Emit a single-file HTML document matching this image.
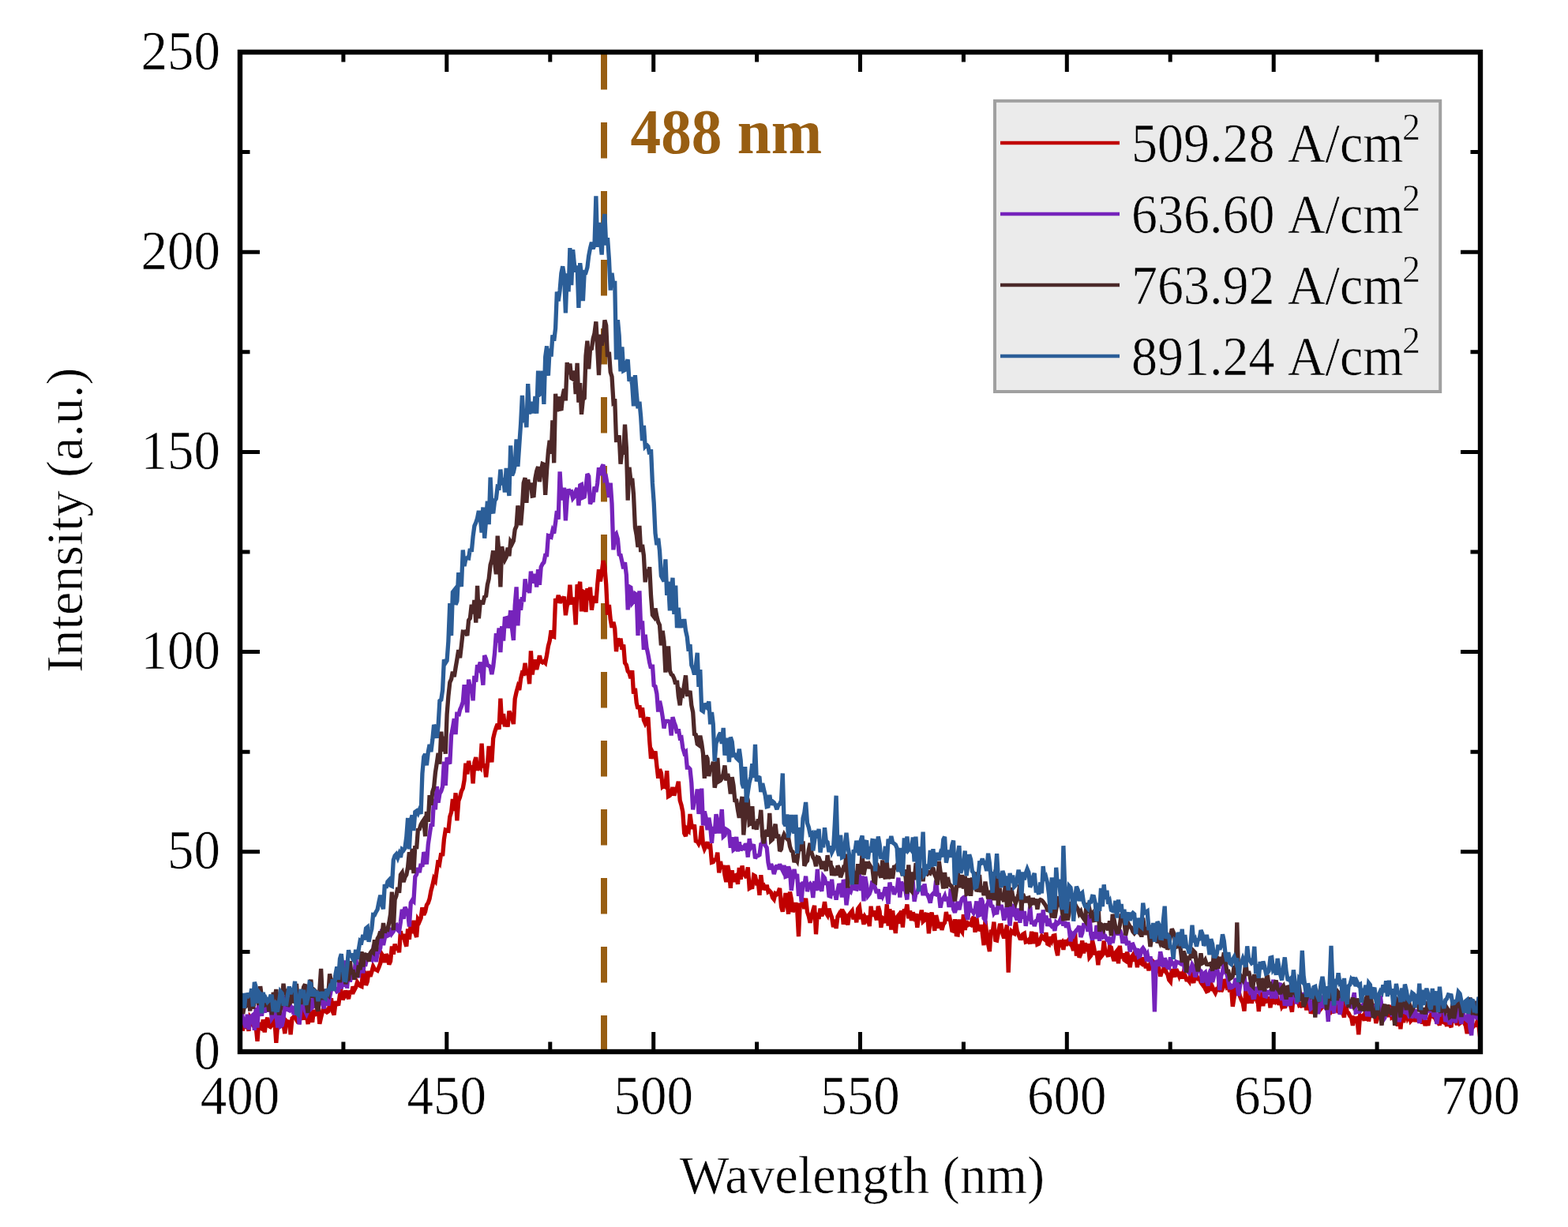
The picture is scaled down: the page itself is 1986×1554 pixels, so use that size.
<!DOCTYPE html>
<html><head><meta charset="utf-8"><style>
html,body{margin:0;padding:0;background:#fff;}
svg{display:block;}
text{font-family:"Liberation Serif","Times New Roman",serif;font-size:66px;fill:#000;stroke:#fff;stroke-width:0.6px;}
.lg{stroke:#ebebeb;}
</style></head><body>
<svg width="1986" height="1554" viewBox="0 0 1986 1554">
<rect x="0" y="0" width="1986" height="1554" fill="#fff"/>
<line x1="765" y1="68" x2="765" y2="1331" stroke="#985e12" stroke-width="8" stroke-dasharray="45.5 41.5"/>
<polyline fill="none" stroke="#c00000" stroke-width="5.3" stroke-linejoin="miter" stroke-miterlimit="3" points="304.0,1305.7 305.8,1302.8 307.7,1303.1 309.5,1294.8 311.3,1298.3 313.2,1294.9 315.0,1305.7 316.8,1288.5 318.7,1291.3 320.5,1298.2 322.3,1300.5 324.2,1300.9 326.0,1318.8 327.8,1295.0 329.7,1301.9 331.5,1302.9 333.3,1291.4 335.2,1307.4 337.0,1294.0 338.8,1288.9 340.7,1299.5 342.5,1300.6 344.3,1298.3 346.2,1288.0 348.0,1294.5 349.8,1320.9 351.7,1297.5 353.5,1286.6 355.3,1286.9 357.2,1289.8 359.0,1296.6 360.8,1309.0 362.7,1293.2 364.5,1295.3 366.3,1292.5 368.1,1310.2 370.0,1289.7 371.8,1288.3 373.6,1285.2 375.5,1291.6 377.3,1294.5 379.1,1294.7 381.0,1282.5 382.8,1284.2 384.6,1291.6 386.5,1266.7 388.3,1285.5 390.1,1297.0 392.0,1281.0 393.8,1286.1 395.6,1294.7 397.5,1279.1 399.3,1284.9 401.1,1284.3 403.0,1275.4 404.8,1296.8 406.6,1288.7 408.5,1281.0 410.3,1274.6 412.1,1280.7 414.0,1282.0 415.8,1280.9 417.6,1271.9 419.5,1264.3 421.3,1280.8 423.1,1285.3 425.0,1270.2 426.8,1270.1 428.6,1273.5 430.5,1259.6 432.3,1256.5 434.1,1266.1 436.0,1262.4 437.8,1254.7 439.6,1259.9 441.5,1265.0 443.3,1254.7 445.1,1259.1 447.0,1249.5 448.8,1253.9 450.6,1250.4 452.5,1244.0 454.3,1246.8 456.1,1248.6 458.0,1249.4 459.8,1228.7 461.6,1231.3 463.5,1247.8 465.3,1243.0 467.1,1229.9 469.0,1236.7 470.8,1231.0 472.6,1224.0 474.5,1227.6 476.3,1228.1 478.1,1229.2 480.0,1224.8 481.8,1219.8 483.6,1208.4 485.5,1211.5 487.3,1218.8 489.1,1208.5 490.9,1212.0 492.8,1221.4 494.6,1217.3 496.4,1198.6 498.3,1208.6 500.1,1195.5 501.9,1203.2 503.8,1198.9 505.6,1206.2 507.4,1179.3 509.3,1189.4 511.1,1183.1 512.9,1192.5 514.8,1198.6 516.6,1176.5 518.4,1189.8 520.3,1169.8 522.1,1182.0 523.9,1165.7 525.8,1181.5 527.6,1186.8 529.4,1164.3 531.3,1167.0 533.1,1162.7 534.9,1149.3 536.8,1158.5 538.6,1154.7 540.4,1146.3 542.3,1143.5 544.1,1138.2 545.9,1128.3 547.8,1121.2 549.6,1112.7 551.4,1115.3 553.3,1101.8 555.1,1089.3 556.9,1092.4 558.8,1080.4 560.6,1084.0 562.4,1063.2 564.3,1051.1 566.1,1051.7 567.9,1052.2 569.8,1034.2 571.6,1028.8 573.4,1012.1 575.3,1027.0 577.1,1004.3 578.9,1039.4 580.8,1014.2 582.6,1009.4 584.4,1002.2 586.3,998.3 588.1,988.3 589.9,966.7 591.8,980.4 593.6,963.7 595.4,973.9 597.3,969.5 599.1,992.3 600.9,965.8 602.8,959.1 604.6,975.7 606.4,969.9 608.3,972.1 610.1,941.7 611.9,972.2 613.7,967.5 615.6,984.3 617.4,968.3 619.2,944.9 621.1,954.9 622.9,965.3 624.7,935.2 626.6,927.1 628.4,921.6 630.2,916.9 632.1,923.7 633.9,884.7 635.7,917.2 637.6,904.1 639.4,920.3 641.2,912.0 643.1,920.4 644.9,900.6 646.7,905.4 648.6,909.5 650.4,917.0 652.2,885.1 654.1,876.5 655.9,870.0 657.7,873.9 659.6,859.6 661.4,852.2 663.2,853.0 665.1,839.8 666.9,854.9 668.7,848.7 670.6,866.1 672.4,824.3 674.2,854.4 676.1,840.7 677.9,835.5 679.7,847.8 681.6,839.9 683.4,830.3 685.2,837.9 687.1,839.0 688.9,837.6 690.7,839.5 692.6,829.5 694.4,818.4 696.2,811.8 698.1,798.4 699.9,805.7 701.7,806.4 703.6,758.1 705.4,763.1 707.2,753.8 709.1,763.8 710.9,758.7 712.7,760.3 714.6,755.6 716.4,779.2 718.2,767.2 720.1,763.0 721.9,740.6 723.7,765.6 725.6,756.9 727.4,765.0 729.2,791.2 731.1,740.3 732.9,746.9 734.7,736.8 736.5,774.3 738.4,749.0 740.2,750.0 742.0,775.1 743.9,745.1 745.7,760.2 747.5,743.7 749.4,772.7 751.2,759.8 753.0,755.2 754.9,763.8 756.7,740.1 758.5,721.2 760.4,736.4 762.2,725.3 764.0,710.1 765.9,718.1 767.7,739.8 769.5,778.6 771.4,766.1 773.2,784.5 775.0,794.7 776.9,787.9 778.7,795.8 780.5,825.2 782.4,808.2 784.2,818.5 786.0,808.7 787.9,822.7 789.7,816.5 791.5,839.6 793.4,842.3 795.2,850.0 797.0,852.2 798.9,859.1 800.7,849.2 802.5,878.6 804.4,871.8 806.2,890.1 808.0,897.7 809.9,893.4 811.7,908.7 813.5,896.4 815.4,912.1 817.2,916.2 819.0,912.6 820.9,908.5 822.7,938.2 824.5,960.9 826.4,952.6 828.2,956.2 830.0,951.6 831.9,970.2 833.7,985.6 835.5,974.3 837.4,978.9 839.2,996.3 841.0,994.8 842.9,996.3 844.7,976.2 846.5,1008.5 848.4,1007.4 850.2,1004.7 852.0,997.1 853.9,1007.5 855.7,1000.3 857.5,997.9 859.3,989.7 861.2,1013.7 863.0,1019.7 864.8,1028.3 866.7,1055.4 868.5,1059.0 870.3,1050.1 872.2,1052.1 874.0,1031.1 875.8,1044.5 877.7,1049.7 879.5,1044.4 881.3,1065.0 883.2,1065.7 885.0,1068.8 886.8,1065.1 888.7,1045.9 890.5,1069.7 892.3,1075.2 894.2,1071.3 896.0,1066.5 897.8,1072.2 899.7,1071.4 901.5,1092.3 903.3,1091.8 905.2,1088.9 907.0,1088.5 908.8,1079.8 910.7,1105.3 912.5,1091.0 914.3,1100.9 916.2,1095.8 918.0,1108.4 919.8,1117.0 921.7,1096.1 923.5,1104.8 925.3,1124.7 927.2,1102.3 929.0,1117.0 930.8,1109.2 932.7,1108.3 934.5,1119.8 936.3,1099.1 938.2,1113.8 940.0,1096.4 941.8,1107.3 943.7,1108.3 945.5,1111.7 947.3,1098.4 949.2,1125.0 951.0,1123.9 952.8,1123.6 954.7,1108.6 956.5,1109.7 958.3,1118.1 960.2,1116.9 962.0,1133.7 963.8,1108.2 965.7,1123.8 967.5,1122.2 969.3,1127.2 971.2,1120.7 973.0,1129.5 974.8,1128.4 976.6,1130.3 978.5,1136.7 980.3,1138.9 982.1,1131.5 984.0,1132.4 985.8,1130.1 987.6,1125.0 989.5,1148.2 991.3,1154.5 993.1,1143.9 995.0,1131.1 996.8,1142.7 998.6,1157.6 1000.5,1129.5 1002.3,1138.4 1004.1,1155.0 1006.0,1150.1 1007.8,1143.4 1009.6,1150.0 1011.5,1186.2 1013.3,1143.7 1015.1,1148.8 1017.0,1138.0 1018.8,1151.2 1020.6,1137.7 1022.5,1155.0 1024.3,1160.3 1026.1,1168.7 1028.0,1159.7 1029.8,1153.0 1031.6,1146.9 1033.5,1183.2 1035.3,1156.2 1037.1,1164.0 1039.0,1150.5 1040.8,1160.4 1042.6,1154.0 1044.5,1142.2 1046.3,1156.3 1048.1,1159.2 1050.0,1150.8 1051.8,1157.2 1053.6,1162.0 1055.5,1174.2 1057.3,1164.8 1059.1,1175.8 1061.0,1160.9 1062.8,1157.7 1064.6,1161.4 1066.5,1151.2 1068.3,1170.7 1070.1,1158.3 1072.0,1161.5 1073.8,1171.5 1075.6,1158.3 1077.5,1155.9 1079.3,1153.7 1081.1,1164.2 1083.0,1157.9 1084.8,1168.2 1086.6,1151.0 1088.5,1148.4 1090.3,1161.3 1092.1,1160.6 1094.0,1170.7 1095.8,1161.8 1097.6,1164.8 1099.4,1160.0 1101.3,1173.0 1103.1,1147.8 1104.9,1160.6 1106.8,1153.7 1108.6,1158.7 1110.4,1165.2 1112.3,1147.8 1114.1,1154.2 1115.9,1174.7 1117.8,1162.7 1119.6,1164.2 1121.4,1168.7 1123.3,1145.3 1125.1,1172.6 1126.9,1151.2 1128.8,1177.5 1130.6,1153.3 1132.4,1168.5 1134.3,1182.0 1136.1,1161.6 1137.9,1159.4 1139.8,1169.7 1141.6,1153.2 1143.4,1174.5 1145.3,1151.5 1147.1,1155.3 1148.9,1145.6 1150.8,1163.2 1152.6,1153.5 1154.4,1165.9 1156.3,1155.6 1158.1,1161.1 1159.9,1157.5 1161.8,1174.7 1163.6,1160.9 1165.4,1162.0 1167.3,1152.7 1169.1,1167.0 1170.9,1165.3 1172.8,1158.1 1174.6,1158.5 1176.4,1182.3 1178.3,1164.4 1180.1,1155.6 1181.9,1165.9 1183.8,1178.8 1185.6,1159.2 1187.4,1166.8 1189.3,1175.4 1191.1,1167.9 1192.9,1177.7 1194.8,1170.7 1196.6,1168.5 1198.4,1155.0 1200.3,1166.2 1202.1,1158.9 1203.9,1167.4 1205.8,1178.5 1207.6,1179.1 1209.4,1164.3 1211.3,1183.7 1213.1,1184.0 1214.9,1164.4 1216.8,1177.8 1218.6,1180.3 1220.4,1158.2 1222.2,1177.9 1224.1,1166.3 1225.9,1171.5 1227.7,1170.4 1229.6,1171.4 1231.4,1164.3 1233.2,1161.2 1235.1,1180.8 1236.9,1162.4 1238.7,1176.8 1240.6,1177.2 1242.4,1171.2 1244.2,1181.4 1246.1,1197.2 1247.9,1166.4 1249.7,1183.1 1251.6,1195.5 1253.4,1205.0 1255.2,1177.6 1257.1,1181.7 1258.9,1167.6 1260.7,1190.4 1262.6,1191.0 1264.4,1181.7 1266.2,1172.0 1268.1,1171.8 1269.9,1182.7 1271.7,1188.2 1273.6,1182.2 1275.4,1171.4 1277.2,1231.7 1279.1,1186.3 1280.9,1179.4 1282.7,1181.4 1284.6,1182.4 1286.4,1167.8 1288.2,1179.1 1290.1,1184.0 1291.9,1188.4 1293.7,1188.5 1295.6,1183.3 1297.4,1182.2 1299.2,1193.0 1301.1,1192.4 1302.9,1190.5 1304.7,1195.4 1306.6,1179.9 1308.4,1195.0 1310.2,1187.1 1312.1,1181.0 1313.9,1196.1 1315.7,1195.3 1317.6,1190.2 1319.4,1185.7 1321.2,1188.5 1323.1,1189.9 1324.9,1181.2 1326.7,1195.3 1328.6,1196.3 1330.4,1186.6 1332.2,1191.0 1334.1,1185.2 1335.9,1184.8 1337.7,1201.9 1339.6,1210.2 1341.4,1191.0 1343.2,1196.0 1345.0,1193.8 1346.9,1202.8 1348.7,1190.0 1350.5,1197.6 1352.4,1191.9 1354.2,1189.5 1356.0,1196.1 1357.9,1198.4 1359.7,1203.8 1361.5,1179.4 1363.4,1210.6 1365.2,1195.7 1367.0,1212.7 1368.9,1207.9 1370.7,1191.4 1372.5,1207.5 1374.4,1194.2 1376.2,1205.0 1378.0,1195.4 1379.9,1212.4 1381.7,1210.2 1383.5,1190.8 1385.4,1199.1 1387.2,1209.2 1389.0,1205.1 1390.9,1222.3 1392.7,1204.2 1394.5,1211.9 1396.4,1209.5 1398.2,1191.5 1400.0,1207.0 1401.9,1207.9 1403.7,1211.7 1405.5,1198.8 1407.4,1200.0 1409.2,1210.6 1411.0,1216.9 1412.9,1206.5 1414.7,1204.2 1416.5,1220.2 1418.4,1197.8 1420.2,1214.0 1422.0,1207.7 1423.9,1215.6 1425.7,1216.9 1427.5,1205.6 1429.4,1212.6 1431.2,1225.2 1433.0,1212.3 1434.9,1209.6 1436.7,1217.7 1438.5,1209.5 1440.4,1225.1 1442.2,1212.5 1444.0,1218.9 1445.9,1220.4 1447.7,1212.7 1449.5,1218.2 1451.4,1226.0 1453.2,1220.3 1455.0,1229.1 1456.9,1221.1 1458.7,1216.0 1460.5,1217.7 1462.4,1232.4 1464.2,1230.1 1466.0,1224.8 1467.8,1226.2 1469.7,1236.5 1471.5,1230.4 1473.3,1229.7 1475.2,1222.0 1477.0,1231.4 1478.8,1233.8 1480.7,1241.0 1482.5,1243.2 1484.3,1227.2 1486.2,1233.4 1488.0,1237.2 1489.8,1227.5 1491.7,1231.3 1493.5,1236.0 1495.3,1230.8 1497.2,1239.4 1499.0,1232.1 1500.8,1234.9 1502.7,1240.8 1504.5,1240.7 1506.3,1243.0 1508.2,1231.5 1510.0,1238.6 1511.8,1244.9 1513.7,1233.2 1515.5,1235.5 1517.3,1239.6 1519.2,1239.2 1521.0,1244.2 1522.8,1246.7 1524.7,1237.7 1526.5,1252.1 1528.3,1255.6 1530.2,1254.9 1532.0,1240.6 1533.8,1254.7 1535.7,1250.2 1537.5,1254.4 1539.3,1257.5 1541.2,1252.9 1543.0,1253.5 1544.8,1240.1 1546.7,1255.9 1548.5,1252.1 1550.3,1240.4 1552.2,1244.7 1554.0,1250.5 1555.8,1249.2 1557.7,1256.1 1559.5,1250.9 1561.3,1274.8 1563.2,1262.9 1565.0,1246.1 1566.8,1258.0 1568.7,1254.3 1570.5,1261.6 1572.3,1266.4 1574.2,1270.1 1576.0,1280.5 1577.8,1254.8 1579.7,1270.7 1581.5,1263.1 1583.3,1260.1 1585.2,1270.4 1587.0,1264.4 1588.8,1259.0 1590.6,1263.7 1592.5,1259.0 1594.3,1281.1 1596.1,1260.4 1598.0,1259.2 1599.8,1274.1 1601.6,1260.5 1603.5,1268.4 1605.3,1267.6 1607.1,1262.6 1609.0,1276.3 1610.8,1261.4 1612.6,1271.8 1614.5,1262.0 1616.3,1267.7 1618.1,1265.3 1620.0,1272.5 1621.8,1267.4 1623.6,1274.9 1625.5,1271.9 1627.3,1276.7 1629.1,1267.9 1631.0,1273.9 1632.8,1252.0 1634.6,1273.1 1636.5,1281.6 1638.3,1260.4 1640.1,1270.2 1642.0,1264.7 1643.8,1267.7 1645.6,1273.3 1647.5,1272.3 1649.3,1275.8 1651.1,1260.2 1653.0,1265.8 1654.8,1279.4 1656.6,1265.4 1658.5,1268.7 1660.3,1283.6 1662.1,1278.7 1664.0,1271.1 1665.8,1272.0 1667.6,1260.8 1669.5,1274.1 1671.3,1268.1 1673.1,1277.4 1675.0,1275.0 1676.8,1274.2 1678.6,1274.5 1680.5,1272.8 1682.3,1273.7 1684.1,1285.2 1686.0,1271.0 1687.8,1283.7 1689.6,1272.1 1691.5,1274.0 1693.3,1274.1 1695.1,1282.6 1697.0,1277.1 1698.8,1274.4 1700.6,1282.4 1702.5,1288.5 1704.3,1268.2 1706.1,1281.0 1708.0,1283.0 1709.8,1286.7 1711.6,1288.9 1713.4,1298.8 1715.3,1289.4 1717.1,1290.2 1718.9,1289.5 1720.8,1310.2 1722.6,1286.2 1724.4,1288.8 1726.3,1286.6 1728.1,1292.7 1729.9,1280.2 1731.8,1280.9 1733.6,1293.5 1735.4,1282.4 1737.3,1283.6 1739.1,1271.4 1740.9,1279.7 1742.8,1295.9 1744.6,1289.3 1746.4,1281.4 1748.3,1282.7 1750.1,1278.5 1751.9,1287.4 1753.8,1285.2 1755.6,1277.9 1757.4,1283.6 1759.3,1287.7 1761.1,1272.8 1762.9,1288.4 1764.8,1287.1 1766.6,1293.7 1768.4,1286.9 1770.3,1299.7 1772.1,1279.6 1773.9,1303.3 1775.8,1284.2 1777.6,1294.9 1779.4,1287.3 1781.3,1280.0 1783.1,1289.2 1784.9,1286.0 1786.8,1293.1 1788.6,1291.1 1790.4,1281.8 1792.3,1294.2 1794.1,1284.5 1795.9,1289.1 1797.8,1293.0 1799.6,1284.7 1801.4,1296.6 1803.3,1288.7 1805.1,1299.0 1806.9,1292.4 1808.8,1298.8 1810.6,1289.7 1812.4,1285.2 1814.3,1284.6 1816.1,1288.3 1817.9,1289.8 1819.8,1294.5 1821.6,1294.5 1823.4,1298.5 1825.3,1280.5 1827.1,1294.2 1828.9,1294.9 1830.8,1293.5 1832.6,1299.7 1834.4,1284.7 1836.2,1297.6 1838.1,1300.9 1839.9,1283.9 1841.7,1287.6 1843.6,1291.0 1845.4,1298.2 1847.2,1286.8 1849.1,1295.9 1850.9,1294.6 1852.7,1289.4 1854.6,1295.4 1856.4,1299.0 1858.2,1309.1 1860.1,1288.6 1861.9,1309.0 1863.7,1299.8 1865.6,1300.7 1867.4,1298.8 1869.2,1298.4 1871.1,1293.5 1872.9,1298.8 1874.7,1314.2"/>
<polyline fill="none" stroke="#7623bb" stroke-width="5.3" stroke-linejoin="miter" stroke-miterlimit="3" points="304.0,1275.6 305.8,1282.3 307.7,1289.9 309.5,1296.1 311.3,1301.7 313.2,1284.8 315.0,1304.1 316.8,1292.7 318.7,1287.0 320.5,1285.4 322.3,1304.8 324.2,1276.1 326.0,1301.5 327.8,1266.7 329.7,1277.5 331.5,1286.7 333.3,1270.6 335.2,1282.2 337.0,1276.2 338.8,1281.2 340.7,1272.3 342.5,1272.4 344.3,1289.7 346.2,1286.9 348.0,1278.3 349.8,1283.2 351.7,1301.5 353.5,1262.8 355.3,1299.8 357.2,1298.4 359.0,1290.4 360.8,1273.0 362.7,1261.2 364.5,1278.7 366.3,1279.6 368.1,1274.2 370.0,1278.8 371.8,1274.6 373.6,1285.6 375.5,1271.5 377.3,1272.0 379.1,1297.4 381.0,1276.2 382.8,1273.3 384.6,1268.9 386.5,1280.6 388.3,1284.3 390.1,1280.1 392.0,1265.6 393.8,1277.5 395.6,1275.7 397.5,1257.4 399.3,1274.0 401.1,1274.2 403.0,1266.1 404.8,1262.8 406.6,1254.5 408.5,1271.6 410.3,1277.3 412.1,1263.0 414.0,1254.9 415.8,1273.5 417.6,1262.7 419.5,1253.5 421.3,1252.3 423.1,1251.7 425.0,1252.8 426.8,1255.7 428.6,1254.8 430.5,1232.6 432.3,1252.5 434.1,1228.3 436.0,1249.9 437.8,1216.3 439.6,1251.7 441.5,1224.8 443.3,1243.4 445.1,1236.1 447.0,1234.2 448.8,1237.3 450.6,1212.9 452.5,1228.4 454.3,1238.2 456.1,1221.1 458.0,1219.1 459.8,1232.5 461.6,1217.3 463.5,1219.3 465.3,1211.4 467.1,1210.4 469.0,1214.3 470.8,1215.6 472.6,1202.7 474.5,1205.4 476.3,1218.1 478.1,1207.8 480.0,1204.8 481.8,1200.4 483.6,1176.7 485.5,1197.1 487.3,1188.1 489.1,1176.7 490.9,1185.1 492.8,1184.2 494.6,1174.9 496.4,1182.1 498.3,1179.5 500.1,1172.1 501.9,1171.4 503.8,1178.0 505.6,1179.5 507.4,1167.6 509.3,1151.7 511.1,1163.8 512.9,1148.9 514.8,1152.7 516.6,1156.1 518.4,1173.6 520.3,1143.2 522.1,1140.2 523.9,1141.7 525.8,1110.4 527.6,1107.6 529.4,1099.0 531.3,1105.0 533.1,1094.0 534.9,1097.8 536.8,1079.2 538.6,1084.5 540.4,1094.5 542.3,1069.4 544.1,1057.1 545.9,1045.0 547.8,1044.7 549.6,1011.6 551.4,1025.4 553.3,996.1 555.1,1016.5 556.9,1005.3 558.8,1002.0 560.6,996.0 562.4,964.7 564.3,994.9 566.1,959.5 567.9,964.4 569.8,967.4 571.6,931.1 573.4,922.1 575.3,910.2 577.1,930.0 578.9,901.6 580.8,906.8 582.6,898.9 584.4,894.7 586.3,889.2 588.1,867.1 589.9,878.7 591.8,902.4 593.6,860.7 595.4,871.2 597.3,866.8 599.1,887.3 600.9,855.9 602.8,863.6 604.6,842.3 606.4,845.7 608.3,838.6 610.1,851.5 611.9,867.6 613.7,830.1 615.6,834.9 617.4,842.3 619.2,843.1 621.1,845.1 622.9,854.1 624.7,844.1 626.6,826.9 628.4,802.1 630.2,813.7 632.1,795.5 633.9,826.1 635.7,793.2 637.6,811.5 639.4,783.4 641.2,782.9 643.1,795.1 644.9,790.5 646.7,773.1 648.6,796.4 650.4,810.8 652.2,766.8 654.1,743.4 655.9,792.4 657.7,758.9 659.6,772.7 661.4,756.3 663.2,762.1 665.1,733.3 666.9,749.4 668.7,741.6 670.6,751.0 672.4,723.6 674.2,738.1 676.1,733.6 677.9,726.9 679.7,743.5 681.6,721.3 683.4,740.8 685.2,718.2 687.1,714.3 688.9,712.2 690.7,703.2 692.6,702.9 694.4,678.5 696.2,679.0 698.1,680.0 699.9,672.0 701.7,675.4 703.6,661.9 705.4,647.1 707.2,657.7 709.1,597.4 710.9,628.7 712.7,632.8 714.6,617.7 716.4,659.4 718.2,631.5 720.1,619.6 721.9,623.5 723.7,622.9 725.6,631.1 727.4,628.9 729.2,622.2 731.1,618.1 732.9,640.3 734.7,614.6 736.5,613.7 738.4,630.0 740.2,629.2 742.0,617.5 743.9,600.2 745.7,603.3 747.5,638.3 749.4,633.8 751.2,633.7 753.0,616.4 754.9,623.1 756.7,612.1 758.5,592.3 760.4,602.0 762.2,592.1 764.0,588.4 765.9,606.8 767.7,604.9 769.5,615.0 771.4,630.0 773.2,611.7 775.0,637.8 776.9,696.3 778.7,678.2 780.5,676.1 782.4,682.7 784.2,702.1 786.0,702.9 787.9,711.5 789.7,720.1 791.5,712.2 793.4,728.3 795.2,772.3 797.0,742.9 798.9,744.0 800.7,764.0 802.5,761.9 804.4,752.0 806.2,753.2 808.0,804.9 809.9,748.4 811.7,797.0 813.5,786.4 815.4,822.8 817.2,803.8 819.0,820.0 820.9,828.9 822.7,839.3 824.5,846.4 826.4,841.7 828.2,868.1 830.0,869.4 831.9,878.6 833.7,901.5 835.5,887.8 837.4,896.4 839.2,907.5 841.0,922.5 842.9,913.3 844.7,913.3 846.5,913.3 848.4,914.3 850.2,931.5 852.0,908.1 853.9,914.8 855.7,919.8 857.5,928.7 859.3,923.5 861.2,934.6 863.0,934.0 864.8,947.2 866.7,953.5 868.5,952.1 870.3,972.1 872.2,972.2 874.0,974.1 875.8,991.1 877.7,1025.4 879.5,1011.3 881.3,1015.5 883.2,999.5 885.0,1030.9 886.8,1020.8 888.7,998.7 890.5,1045.4 892.3,1027.5 894.2,1035.9 896.0,1051.1 897.8,1035.7 899.7,1047.0 901.5,1067.7 903.3,1046.9 905.2,1055.7 907.0,1031.1 908.8,1043.0 910.7,1055.3 912.5,1042.2 914.3,1025.1 916.2,1059.4 918.0,1057.8 919.8,1050.4 921.7,1051.5 923.5,1053.3 925.3,1073.7 927.2,1060.2 929.0,1076.2 930.8,1074.8 932.7,1059.9 934.5,1078.4 936.3,1066.5 938.2,1077.1 940.0,1073.2 941.8,1074.2 943.7,1070.2 945.5,1070.1 947.3,1085.6 949.2,1062.2 951.0,1073.5 952.8,1070.8 954.7,1071.3 956.5,1087.1 958.3,1084.1 960.2,1083.7 962.0,1082.7 963.8,1069.5 965.7,1068.8 967.5,1053.8 969.3,1070.9 971.2,1073.6 973.0,1092.3 974.8,1101.3 976.6,1094.3 978.5,1098.6 980.3,1106.9 982.1,1100.7 984.0,1095.6 985.8,1101.0 987.6,1094.5 989.5,1099.0 991.3,1102.5 993.1,1095.9 995.0,1110.3 996.8,1109.6 998.6,1097.5 1000.5,1103.3 1002.3,1127.9 1004.1,1113.3 1006.0,1100.9 1007.8,1112.5 1009.6,1107.0 1011.5,1134.9 1013.3,1117.7 1015.1,1142.2 1017.0,1116.8 1018.8,1121.8 1020.6,1109.7 1022.5,1129.1 1024.3,1121.1 1026.1,1119.4 1028.0,1122.2 1029.8,1136.9 1031.6,1115.9 1033.5,1128.1 1035.3,1100.8 1037.1,1127.1 1039.0,1123.1 1040.8,1128.7 1042.6,1109.7 1044.5,1112.1 1046.3,1120.5 1048.1,1116.5 1050.0,1134.6 1051.8,1135.2 1053.6,1113.8 1055.5,1134.0 1057.3,1128.3 1059.1,1139.5 1061.0,1127.8 1062.8,1119.3 1064.6,1123.2 1066.5,1136.3 1068.3,1114.1 1070.1,1120.2 1072.0,1146.4 1073.8,1133.2 1075.6,1126.6 1077.5,1128.8 1079.3,1122.6 1081.1,1114.3 1083.0,1125.6 1084.8,1126.0 1086.6,1112.4 1088.5,1110.1 1090.3,1128.0 1092.1,1109.5 1094.0,1141.4 1095.8,1110.3 1097.6,1121.1 1099.4,1134.4 1101.3,1132.0 1103.1,1126.7 1104.9,1115.8 1106.8,1120.1 1108.6,1125.2 1110.4,1131.1 1112.3,1126.3 1114.1,1138.3 1115.9,1130.8 1117.8,1135.2 1119.6,1130.9 1121.4,1123.6 1123.3,1131.1 1125.1,1144.8 1126.9,1117.6 1128.8,1127.5 1130.6,1122.7 1132.4,1132.7 1134.3,1127.9 1136.1,1127.9 1137.9,1111.6 1139.8,1136.5 1141.6,1116.5 1143.4,1128.2 1145.3,1117.8 1147.1,1129.9 1148.9,1139.4 1150.8,1114.8 1152.6,1126.9 1154.4,1119.2 1156.3,1117.8 1158.1,1141.9 1159.9,1131.7 1161.8,1130.3 1163.6,1124.3 1165.4,1125.0 1167.3,1124.1 1169.1,1133.9 1170.9,1119.5 1172.8,1131.9 1174.6,1133.0 1176.4,1137.1 1178.3,1143.5 1180.1,1133.6 1181.9,1131.6 1183.8,1132.1 1185.6,1115.1 1187.4,1133.3 1189.3,1133.4 1191.1,1149.6 1192.9,1140.5 1194.8,1138.3 1196.6,1134.6 1198.4,1141.1 1200.3,1136.2 1202.1,1148.9 1203.9,1129.6 1205.8,1131.1 1207.6,1151.7 1209.4,1155.8 1211.3,1148.8 1213.1,1141.9 1214.9,1152.1 1216.8,1143.2 1218.6,1138.4 1220.4,1136.8 1222.2,1135.9 1224.1,1159.6 1225.9,1164.5 1227.7,1141.7 1229.6,1153.3 1231.4,1153.2 1233.2,1156.2 1235.1,1152.2 1236.9,1141.5 1238.7,1159.7 1240.6,1158.9 1242.4,1137.5 1244.2,1141.3 1246.1,1163.1 1247.9,1165.4 1249.7,1146.5 1251.6,1143.4 1253.4,1133.6 1255.2,1147.2 1257.1,1147.9 1258.9,1156.3 1260.7,1153.6 1262.6,1158.0 1264.4,1143.9 1266.2,1151.6 1268.1,1146.1 1269.9,1153.6 1271.7,1165.5 1273.6,1157.5 1275.4,1147.7 1277.2,1153.9 1279.1,1172.6 1280.9,1147.4 1282.7,1160.9 1284.6,1144.7 1286.4,1160.2 1288.2,1165.3 1290.1,1150.5 1291.9,1168.8 1293.7,1148.0 1295.6,1163.4 1297.4,1154.0 1299.2,1172.8 1301.1,1160.4 1302.9,1166.2 1304.7,1148.1 1306.6,1170.4 1308.4,1166.2 1310.2,1172.9 1312.1,1166.4 1313.9,1165.7 1315.7,1157.4 1317.6,1161.8 1319.4,1182.1 1321.2,1152.4 1323.1,1168.3 1324.9,1159.7 1326.7,1172.9 1328.6,1163.4 1330.4,1171.2 1332.2,1173.2 1334.1,1171.9 1335.9,1178.9 1337.7,1168.2 1339.6,1169.9 1341.4,1168.3 1343.2,1164.1 1345.0,1166.7 1346.9,1172.2 1348.7,1167.1 1350.5,1174.7 1352.4,1168.1 1354.2,1177.3 1356.0,1192.2 1357.9,1182.8 1359.7,1184.9 1361.5,1180.7 1363.4,1178.1 1365.2,1176.2 1367.0,1172.8 1368.9,1186.8 1370.7,1181.7 1372.5,1171.9 1374.4,1172.4 1376.2,1166.8 1378.0,1179.8 1379.9,1158.2 1381.7,1183.3 1383.5,1190.6 1385.4,1180.4 1387.2,1189.0 1389.0,1172.1 1390.9,1178.9 1392.7,1191.7 1394.5,1178.0 1396.4,1171.9 1398.2,1186.6 1400.0,1185.9 1401.9,1189.8 1403.7,1189.0 1405.5,1196.2 1407.4,1187.0 1409.2,1194.2 1411.0,1184.1 1412.9,1176.1 1414.7,1179.5 1416.5,1184.1 1418.4,1177.8 1420.2,1182.8 1422.0,1194.6 1423.9,1187.9 1425.7,1187.8 1427.5,1197.0 1429.4,1191.9 1431.2,1205.5 1433.0,1196.6 1434.9,1196.0 1436.7,1200.4 1438.5,1205.1 1440.4,1201.4 1442.2,1211.7 1444.0,1210.7 1445.9,1203.0 1447.7,1200.8 1449.5,1203.5 1451.4,1211.9 1453.2,1208.7 1455.0,1218.1 1456.9,1211.7 1458.7,1219.0 1460.5,1224.1 1462.4,1281.4 1464.2,1218.3 1466.0,1217.9 1467.8,1223.7 1469.7,1205.3 1471.5,1214.4 1473.3,1224.9 1475.2,1213.5 1477.0,1218.5 1478.8,1225.2 1480.7,1225.8 1482.5,1212.4 1484.3,1223.1 1486.2,1217.8 1488.0,1226.5 1489.8,1218.1 1491.7,1218.9 1493.5,1219.2 1495.3,1220.4 1497.2,1216.2 1499.0,1218.8 1500.8,1230.0 1502.7,1213.0 1504.5,1230.5 1506.3,1232.2 1508.2,1228.0 1510.0,1221.9 1511.8,1224.9 1513.7,1237.4 1515.5,1232.8 1517.3,1222.3 1519.2,1228.7 1521.0,1229.8 1522.8,1244.8 1524.7,1233.2 1526.5,1231.7 1528.3,1242.3 1530.2,1248.4 1532.0,1232.1 1533.8,1227.5 1535.7,1243.9 1537.5,1236.5 1539.3,1223.9 1541.2,1222.7 1543.0,1235.0 1544.8,1254.1 1546.7,1236.0 1548.5,1230.8 1550.3,1218.9 1552.2,1231.3 1554.0,1234.0 1555.8,1242.8 1557.7,1252.7 1559.5,1248.5 1561.3,1249.9 1563.2,1248.5 1565.0,1239.1 1566.8,1244.6 1568.7,1261.3 1570.5,1248.9 1572.3,1237.5 1574.2,1240.4 1576.0,1235.3 1577.8,1255.1 1579.7,1244.3 1581.5,1250.2 1583.3,1256.4 1585.2,1254.4 1587.0,1263.4 1588.8,1263.3 1590.6,1250.4 1592.5,1253.6 1594.3,1256.0 1596.1,1243.5 1598.0,1256.0 1599.8,1249.0 1601.6,1261.4 1603.5,1262.0 1605.3,1256.4 1607.1,1257.0 1609.0,1255.1 1610.8,1264.5 1612.6,1240.8 1614.5,1260.8 1616.3,1264.4 1618.1,1252.3 1620.0,1248.1 1621.8,1245.3 1623.6,1267.1 1625.5,1256.0 1627.3,1273.7 1629.1,1261.3 1631.0,1269.4 1632.8,1266.1 1634.6,1273.6 1636.5,1254.1 1638.3,1256.9 1640.1,1260.7 1642.0,1271.4 1643.8,1252.4 1645.6,1257.1 1647.5,1267.0 1649.3,1257.5 1651.1,1262.2 1653.0,1261.6 1654.8,1260.7 1656.6,1261.3 1658.5,1267.4 1660.3,1277.5 1662.1,1276.1 1664.0,1265.9 1665.8,1272.7 1667.6,1267.7 1669.5,1284.1 1671.3,1274.2 1673.1,1274.3 1675.0,1260.5 1676.8,1273.7 1678.6,1276.0 1680.5,1270.6 1682.3,1294.0 1684.1,1252.3 1686.0,1280.1 1687.8,1257.1 1689.6,1283.3 1691.5,1258.9 1693.3,1257.9 1695.1,1260.2 1697.0,1284.9 1698.8,1275.8 1700.6,1256.5 1702.5,1266.7 1704.3,1262.9 1706.1,1270.6 1708.0,1269.3 1709.8,1269.6 1711.6,1277.2 1713.4,1266.4 1715.3,1257.3 1717.1,1282.1 1718.9,1281.5 1720.8,1281.6 1722.6,1280.7 1724.4,1274.1 1726.3,1272.5 1728.1,1272.7 1729.9,1275.8 1731.8,1287.0 1733.6,1280.3 1735.4,1287.2 1737.3,1281.4 1739.1,1277.5 1740.9,1281.0 1742.8,1272.4 1744.6,1281.0 1746.4,1274.4 1748.3,1261.4 1750.1,1275.7 1751.9,1292.0 1753.8,1289.1 1755.6,1281.2 1757.4,1274.5 1759.3,1282.9 1761.1,1276.5 1762.9,1284.9 1764.8,1284.5 1766.6,1285.3 1768.4,1270.2 1770.3,1277.9 1772.1,1294.3 1773.9,1285.6 1775.8,1273.1 1777.6,1283.7 1779.4,1268.3 1781.3,1282.8 1783.1,1283.2 1784.9,1287.3 1786.8,1287.0 1788.6,1287.4 1790.4,1282.5 1792.3,1278.7 1794.1,1289.5 1795.9,1283.0 1797.8,1295.8 1799.6,1285.6 1801.4,1281.8 1803.3,1286.3 1805.1,1291.3 1806.9,1281.7 1808.8,1279.1 1810.6,1277.8 1812.4,1282.3 1814.3,1273.4 1816.1,1287.8 1817.9,1281.7 1819.8,1296.7 1821.6,1285.9 1823.4,1285.5 1825.3,1271.2 1827.1,1277.5 1828.9,1278.3 1830.8,1294.0 1832.6,1289.6 1834.4,1287.0 1836.2,1297.4 1838.1,1291.7 1839.9,1283.8 1841.7,1289.4 1843.6,1295.2 1845.4,1275.3 1847.2,1285.0 1849.1,1288.1 1850.9,1296.7 1852.7,1281.5 1854.6,1289.5 1856.4,1290.9 1858.2,1292.3 1860.1,1279.0 1861.9,1300.8 1863.7,1311.2 1865.6,1282.5 1867.4,1285.9 1869.2,1285.1 1871.1,1291.0 1872.9,1285.8 1874.7,1294.2"/>
<polyline fill="none" stroke="#4d2828" stroke-width="5.3" stroke-linejoin="miter" stroke-miterlimit="3" points="304.0,1260.7 305.8,1270.0 307.7,1284.0 309.5,1273.9 311.3,1274.5 313.2,1272.4 315.0,1263.4 316.8,1280.4 318.7,1258.0 320.5,1277.5 322.3,1268.1 324.2,1257.6 326.0,1259.7 327.8,1272.8 329.7,1249.1 331.5,1262.6 333.3,1275.4 335.2,1266.1 337.0,1275.0 338.8,1263.4 340.7,1281.0 342.5,1263.6 344.3,1285.2 346.2,1257.0 348.0,1264.3 349.8,1253.1 351.7,1272.5 353.5,1285.4 355.3,1278.1 357.2,1267.1 359.0,1245.8 360.8,1259.6 362.7,1252.8 364.5,1274.5 366.3,1271.4 368.1,1269.3 370.0,1254.2 371.8,1270.1 373.6,1266.1 375.5,1246.0 377.3,1269.0 379.1,1259.7 381.0,1271.8 382.8,1260.7 384.6,1250.1 386.5,1246.6 388.3,1271.9 390.1,1282.8 392.0,1252.3 393.8,1240.7 395.6,1263.6 397.5,1253.5 399.3,1255.2 401.1,1276.2 403.0,1280.5 404.8,1253.6 406.6,1226.9 408.5,1266.2 410.3,1253.4 412.1,1257.2 414.0,1257.8 415.8,1259.8 417.6,1233.4 419.5,1243.6 421.3,1244.6 423.1,1245.8 425.0,1235.6 426.8,1243.5 428.6,1235.5 430.5,1244.0 432.3,1231.5 434.1,1237.7 436.0,1228.9 437.8,1246.2 439.6,1239.1 441.5,1241.9 443.3,1217.2 445.1,1234.2 447.0,1228.2 448.8,1240.7 450.6,1232.7 452.5,1237.6 454.3,1222.5 456.1,1228.2 458.0,1205.3 459.8,1224.5 461.6,1206.8 463.5,1215.1 465.3,1207.5 467.1,1217.7 469.0,1207.1 470.8,1204.6 472.6,1206.3 474.5,1190.3 476.3,1204.7 478.1,1188.9 480.0,1185.6 481.8,1179.7 483.6,1188.3 485.5,1169.1 487.3,1181.3 489.1,1176.3 490.9,1177.1 492.8,1168.6 494.6,1157.8 496.4,1129.6 498.3,1178.2 500.1,1139.3 501.9,1134.6 503.8,1123.9 505.6,1130.7 507.4,1107.9 509.3,1105.3 511.1,1117.0 512.9,1111.0 514.8,1107.8 516.6,1098.0 518.4,1079.2 520.3,1101.6 522.1,1074.8 523.9,1106.1 525.8,1071.2 527.6,1075.0 529.4,1050.9 531.3,1050.1 533.1,1044.4 534.9,1041.0 536.8,1038.2 538.6,1059.2 540.4,1027.8 542.3,1040.8 544.1,1007.2 545.9,1019.7 547.8,1002.8 549.6,997.3 551.4,978.7 553.3,966.4 555.1,953.8 556.9,967.7 558.8,926.6 560.6,951.8 562.4,932.7 564.3,954.7 566.1,904.7 567.9,881.7 569.8,864.1 571.6,860.2 573.4,850.8 575.3,857.2 577.1,845.5 578.9,835.0 580.8,823.1 582.6,833.3 584.4,817.7 586.3,800.1 588.1,800.3 589.9,799.8 591.8,805.0 593.6,785.6 595.4,783.0 597.3,765.9 599.1,777.3 600.9,759.9 602.8,788.6 604.6,741.9 606.4,783.3 608.3,762.4 610.1,763.5 611.9,763.4 613.7,755.8 615.6,754.6 617.4,740.6 619.2,733.1 621.1,715.5 622.9,709.3 624.7,697.5 626.6,712.2 628.4,727.3 630.2,678.6 632.1,701.2 633.9,743.3 635.7,692.2 637.6,702.9 639.4,709.0 641.2,705.5 643.1,693.7 644.9,704.2 646.7,686.0 648.6,688.8 650.4,685.1 652.2,670.7 654.1,666.4 655.9,640.5 657.7,650.5 659.6,665.2 661.4,643.6 663.2,611.8 665.1,605.1 666.9,636.8 668.7,607.5 670.6,619.2 672.4,611.5 674.2,628.1 676.1,627.8 677.9,606.2 679.7,596.8 681.6,591.2 683.4,610.1 685.2,596.8 687.1,587.5 688.9,588.3 690.7,626.8 692.6,595.2 694.4,572.0 696.2,557.8 698.1,574.6 699.9,532.3 701.7,586.3 703.6,498.8 705.4,521.2 707.2,502.4 709.1,516.7 710.9,519.7 712.7,501.6 714.6,492.9 716.4,507.4 718.2,459.2 720.1,474.2 721.9,460.6 723.7,479.0 725.6,480.1 727.4,469.4 729.2,499.0 731.1,459.8 732.9,509.7 734.7,485.2 736.5,524.8 738.4,505.6 740.2,504.2 742.0,450.7 743.9,431.7 745.7,467.2 747.5,442.4 749.4,441.5 751.2,428.9 753.0,422.1 754.9,407.4 756.7,440.7 758.5,475.1 760.4,423.7 762.2,437.5 764.0,428.4 765.9,405.5 767.7,412.2 769.5,451.8 771.4,445.6 773.2,471.3 775.0,477.0 776.9,507.9 778.7,505.4 780.5,557.6 782.4,557.6 784.2,551.4 786.0,587.7 787.9,571.4 789.7,575.3 791.5,537.6 793.4,567.6 795.2,633.6 797.0,591.8 798.9,608.8 800.7,605.8 802.5,626.2 804.4,667.8 806.2,677.7 808.0,692.9 809.9,666.0 811.7,699.0 813.5,689.9 815.4,703.6 817.2,737.3 819.0,721.1 820.9,729.8 822.7,718.1 824.5,754.3 826.4,778.8 828.2,781.1 830.0,770.6 831.9,781.0 833.7,787.9 835.5,791.7 837.4,817.4 839.2,798.9 841.0,812.4 842.9,851.5 844.7,837.7 846.5,818.3 848.4,849.5 850.2,854.0 852.0,855.2 853.9,859.5 855.7,866.2 857.5,861.7 859.3,881.7 861.2,893.3 863.0,876.4 864.8,878.8 866.7,867.1 868.5,855.4 870.3,879.5 872.2,879.4 874.0,874.9 875.8,893.2 877.7,902.2 879.5,929.7 881.3,930.5 883.2,942.2 885.0,943.5 886.8,931.7 888.7,941.4 890.5,954.5 892.3,985.8 894.2,956.8 896.0,960.5 897.8,983.1 899.7,969.6 901.5,975.0 903.3,964.6 905.2,997.7 907.0,989.4 908.8,959.9 910.7,989.5 912.5,988.4 914.3,985.9 916.2,979.7 918.0,969.4 919.8,988.5 921.7,980.1 923.5,989.6 925.3,1005.5 927.2,984.2 929.0,994.6 930.8,1013.7 932.7,1013.9 934.5,1025.7 936.3,1035.9 938.2,1020.0 940.0,1009.0 941.8,1057.5 943.7,1034.5 945.5,1006.5 947.3,1013.6 949.2,1043.8 951.0,1042.6 952.8,1021.1 954.7,1050.1 956.5,1040.5 958.3,1050.7 960.2,1037.6 962.0,1041.8 963.8,1025.8 965.7,1059.2 967.5,1068.2 969.3,1056.2 971.2,1051.2 973.0,1059.5 974.8,1029.9 976.6,1064.5 978.5,1062.8 980.3,1051.5 982.1,1043.7 984.0,1061.5 985.8,1056.6 987.6,1078.1 989.5,1075.2 991.3,1061.5 993.1,1057.0 995.0,1060.4 996.8,1062.2 998.6,1060.9 1000.5,1072.2 1002.3,1077.5 1004.1,1078.9 1006.0,1092.1 1007.8,1087.5 1009.6,1090.4 1011.5,1077.1 1013.3,1058.7 1015.1,1077.9 1017.0,1065.5 1018.8,1096.7 1020.6,1092.3 1022.5,1090.1 1024.3,1076.3 1026.1,1067.9 1028.0,1080.0 1029.8,1085.6 1031.6,1088.7 1033.5,1097.1 1035.3,1085.7 1037.1,1086.3 1039.0,1090.9 1040.8,1100.8 1042.6,1091.2 1044.5,1094.8 1046.3,1103.1 1048.1,1083.2 1050.0,1097.2 1051.8,1090.2 1053.6,1108.8 1055.5,1101.6 1057.3,1104.8 1059.1,1108.6 1061.0,1096.3 1062.8,1100.3 1064.6,1111.0 1066.5,1106.0 1068.3,1099.4 1070.1,1100.9 1072.0,1081.5 1073.8,1124.7 1075.6,1091.3 1077.5,1092.4 1079.3,1094.9 1081.1,1107.0 1083.0,1107.0 1084.8,1119.7 1086.6,1094.3 1088.5,1105.0 1090.3,1104.6 1092.1,1081.3 1094.0,1108.0 1095.8,1098.4 1097.6,1091.3 1099.4,1099.7 1101.3,1095.2 1103.1,1098.2 1104.9,1099.3 1106.8,1115.8 1108.6,1117.0 1110.4,1093.2 1112.3,1099.3 1114.1,1106.5 1115.9,1111.5 1117.8,1089.4 1119.6,1107.5 1121.4,1113.3 1123.3,1092.2 1125.1,1113.0 1126.9,1105.6 1128.8,1100.2 1130.6,1112.7 1132.4,1098.1 1134.3,1097.7 1136.1,1095.4 1137.9,1103.1 1139.8,1085.8 1141.6,1103.3 1143.4,1108.7 1145.3,1101.6 1147.1,1111.2 1148.9,1132.1 1150.8,1095.4 1152.6,1126.3 1154.4,1128.3 1156.3,1104.5 1158.1,1114.3 1159.9,1095.3 1161.8,1095.0 1163.6,1093.3 1165.4,1106.1 1167.3,1100.1 1169.1,1116.3 1170.9,1096.6 1172.8,1105.6 1174.6,1106.9 1176.4,1104.8 1178.3,1106.0 1180.1,1102.8 1181.9,1098.8 1183.8,1107.9 1185.6,1111.7 1187.4,1120.5 1189.3,1090.8 1191.1,1104.2 1192.9,1111.9 1194.8,1125.5 1196.6,1105.1 1198.4,1125.0 1200.3,1111.0 1202.1,1119.2 1203.9,1121.4 1205.8,1122.9 1207.6,1130.9 1209.4,1141.4 1211.3,1126.4 1213.1,1104.5 1214.9,1117.6 1216.8,1124.0 1218.6,1108.0 1220.4,1125.6 1222.2,1109.5 1224.1,1132.4 1225.9,1131.8 1227.7,1112.1 1229.6,1134.8 1231.4,1111.4 1233.2,1122.9 1235.1,1104.5 1236.9,1129.0 1238.7,1126.0 1240.6,1108.0 1242.4,1130.1 1244.2,1122.4 1246.1,1134.2 1247.9,1116.6 1249.7,1126.9 1251.6,1138.3 1253.4,1127.9 1255.2,1138.5 1257.1,1121.9 1258.9,1140.2 1260.7,1105.7 1262.6,1106.8 1264.4,1147.0 1266.2,1124.6 1268.1,1137.5 1269.9,1136.9 1271.7,1141.9 1273.6,1115.3 1275.4,1148.9 1277.2,1115.0 1279.1,1148.0 1280.9,1124.1 1282.7,1134.9 1284.6,1139.4 1286.4,1143.8 1288.2,1138.6 1290.1,1132.2 1291.9,1120.1 1293.7,1153.2 1295.6,1132.1 1297.4,1137.0 1299.2,1142.9 1301.1,1137.4 1302.9,1137.0 1304.7,1146.3 1306.6,1144.0 1308.4,1137.4 1310.2,1145.8 1312.1,1138.5 1313.9,1151.6 1315.7,1141.1 1317.6,1139.5 1319.4,1140.3 1321.2,1142.2 1323.1,1144.9 1324.9,1147.7 1326.7,1152.6 1328.6,1153.0 1330.4,1146.5 1332.2,1162.4 1334.1,1133.8 1335.9,1162.9 1337.7,1152.0 1339.6,1139.6 1341.4,1135.8 1343.2,1146.2 1345.0,1152.0 1346.9,1166.1 1348.7,1149.0 1350.5,1155.4 1352.4,1165.4 1354.2,1155.0 1356.0,1142.3 1357.9,1146.2 1359.7,1148.4 1361.5,1144.8 1363.4,1148.6 1365.2,1151.1 1367.0,1157.3 1368.9,1154.5 1370.7,1160.6 1372.5,1163.3 1374.4,1166.0 1376.2,1143.6 1378.0,1153.4 1379.9,1151.4 1381.7,1158.9 1383.5,1156.8 1385.4,1165.7 1387.2,1165.3 1389.0,1152.2 1390.9,1144.3 1392.7,1179.8 1394.5,1170.5 1396.4,1171.7 1398.2,1176.4 1400.0,1171.6 1401.9,1171.7 1403.7,1178.2 1405.5,1166.3 1407.4,1185.2 1409.2,1158.0 1411.0,1164.0 1412.9,1174.6 1414.7,1180.6 1416.5,1180.4 1418.4,1171.5 1420.2,1157.7 1422.0,1162.6 1423.9,1165.5 1425.7,1184.6 1427.5,1176.3 1429.4,1170.2 1431.2,1173.8 1433.0,1174.8 1434.9,1179.9 1436.7,1182.0 1438.5,1179.5 1440.4,1177.6 1442.2,1180.1 1444.0,1170.2 1445.9,1186.8 1447.7,1162.5 1449.5,1177.0 1451.4,1183.7 1453.2,1174.8 1455.0,1178.9 1456.9,1199.1 1458.7,1188.1 1460.5,1175.3 1462.4,1185.3 1464.2,1174.9 1466.0,1194.3 1467.8,1189.8 1469.7,1194.7 1471.5,1191.1 1473.3,1197.7 1475.2,1198.5 1477.0,1182.8 1478.8,1202.8 1480.7,1196.2 1482.5,1185.4 1484.3,1176.4 1486.2,1180.6 1488.0,1188.5 1489.8,1199.3 1491.7,1198.5 1493.5,1192.8 1495.3,1202.5 1497.2,1218.9 1499.0,1204.8 1500.8,1209.6 1502.7,1231.8 1504.5,1210.9 1506.3,1215.7 1508.2,1209.3 1510.0,1213.1 1511.8,1204.4 1513.7,1206.4 1515.5,1221.9 1517.3,1230.3 1519.2,1219.6 1521.0,1207.5 1522.8,1220.0 1524.7,1219.0 1526.5,1216.0 1528.3,1221.2 1530.2,1221.6 1532.0,1221.0 1533.8,1220.3 1535.7,1229.6 1537.5,1205.1 1539.3,1227.6 1541.2,1210.9 1543.0,1226.7 1544.8,1211.8 1546.7,1219.7 1548.5,1217.6 1550.3,1206.5 1552.2,1219.1 1554.0,1230.3 1555.8,1230.2 1557.7,1239.6 1559.5,1238.5 1561.3,1236.4 1563.2,1223.4 1565.0,1234.7 1566.8,1168.4 1568.7,1239.2 1570.5,1241.8 1572.3,1237.8 1574.2,1241.0 1576.0,1235.6 1577.8,1218.7 1579.7,1235.6 1581.5,1230.1 1583.3,1237.2 1585.2,1248.0 1587.0,1249.7 1588.8,1234.0 1590.6,1243.1 1592.5,1237.6 1594.3,1248.0 1596.1,1253.6 1598.0,1239.3 1599.8,1243.4 1601.6,1255.4 1603.5,1240.8 1605.3,1234.9 1607.1,1247.9 1609.0,1246.7 1610.8,1252.9 1612.6,1253.0 1614.5,1247.2 1616.3,1241.6 1618.1,1252.6 1620.0,1254.7 1621.8,1259.0 1623.6,1251.5 1625.5,1249.0 1627.3,1256.4 1629.1,1265.6 1631.0,1248.4 1632.8,1251.3 1634.6,1262.5 1636.5,1245.4 1638.3,1256.9 1640.1,1256.1 1642.0,1262.9 1643.8,1250.7 1645.6,1250.0 1647.5,1267.5 1649.3,1258.8 1651.1,1275.0 1653.0,1270.2 1654.8,1265.2 1656.6,1254.1 1658.5,1259.6 1660.3,1257.9 1662.1,1265.1 1664.0,1257.0 1665.8,1288.6 1667.6,1255.8 1669.5,1269.0 1671.3,1257.6 1673.1,1248.8 1675.0,1252.7 1676.8,1252.4 1678.6,1254.7 1680.5,1279.0 1682.3,1266.1 1684.1,1254.9 1686.0,1262.3 1687.8,1267.0 1689.6,1257.5 1691.5,1252.7 1693.3,1267.0 1695.1,1257.4 1697.0,1260.2 1698.8,1257.7 1700.6,1250.2 1702.5,1264.4 1704.3,1255.9 1706.1,1251.0 1708.0,1276.0 1709.8,1266.3 1711.6,1271.1 1713.4,1263.5 1715.3,1274.3 1717.1,1272.2 1718.9,1264.8 1720.8,1271.6 1722.6,1279.7 1724.4,1276.0 1726.3,1277.0 1728.1,1280.2 1729.9,1265.1 1731.8,1260.8 1733.6,1280.4 1735.4,1257.1 1737.3,1270.1 1739.1,1287.0 1740.9,1287.5 1742.8,1283.6 1744.6,1266.2 1746.4,1286.1 1748.3,1282.9 1750.1,1298.6 1751.9,1277.6 1753.8,1271.7 1755.6,1286.9 1757.4,1272.7 1759.3,1280.9 1761.1,1280.0 1762.9,1285.0 1764.8,1272.6 1766.6,1298.9 1768.4,1274.8 1770.3,1266.7 1772.1,1268.6 1773.9,1288.4 1775.8,1268.9 1777.6,1270.6 1779.4,1267.9 1781.3,1279.0 1783.1,1264.4 1784.9,1270.2 1786.8,1282.5 1788.6,1279.5 1790.4,1275.8 1792.3,1268.3 1794.1,1268.7 1795.9,1269.1 1797.8,1281.2 1799.6,1277.0 1801.4,1283.9 1803.3,1276.5 1805.1,1284.3 1806.9,1277.6 1808.8,1268.2 1810.6,1280.1 1812.4,1267.9 1814.3,1265.0 1816.1,1281.9 1817.9,1260.9 1819.8,1267.5 1821.6,1281.6 1823.4,1277.8 1825.3,1282.4 1827.1,1274.4 1828.9,1273.6 1830.8,1280.3 1832.6,1276.6 1834.4,1279.5 1836.2,1288.1 1838.1,1286.7 1839.9,1270.7 1841.7,1290.0 1843.6,1279.3 1845.4,1267.7 1847.2,1271.3 1849.1,1267.4 1850.9,1288.0 1852.7,1272.3 1854.6,1272.3 1856.4,1277.4 1858.2,1273.9 1860.1,1275.9 1861.9,1263.3 1863.7,1280.0 1865.6,1284.7 1867.4,1267.8 1869.2,1285.5 1871.1,1281.8 1872.9,1273.2 1874.7,1279.5"/>
<polyline fill="none" stroke="#2b5e98" stroke-width="5.3" stroke-linejoin="miter" stroke-miterlimit="3" points="304.0,1268.9 305.8,1261.8 307.7,1258.5 309.5,1276.7 311.3,1257.9 313.2,1263.9 315.0,1257.8 316.8,1262.9 318.7,1252.2 320.5,1274.7 322.3,1243.9 324.2,1250.1 326.0,1270.3 327.8,1256.5 329.7,1259.0 331.5,1283.3 333.3,1256.8 335.2,1269.5 337.0,1265.3 338.8,1269.1 340.7,1267.1 342.5,1261.8 344.3,1262.0 346.2,1281.1 348.0,1267.1 349.8,1279.7 351.7,1279.4 353.5,1269.3 355.3,1255.9 357.2,1258.2 359.0,1271.5 360.8,1271.6 362.7,1271.7 364.5,1259.5 366.3,1249.5 368.1,1259.2 370.0,1251.4 371.8,1255.9 373.6,1242.9 375.5,1283.1 377.3,1284.7 379.1,1262.8 381.0,1253.0 382.8,1264.1 384.6,1253.7 386.5,1270.7 388.3,1270.5 390.1,1263.3 392.0,1244.8 393.8,1246.0 395.6,1262.0 397.5,1252.1 399.3,1262.0 401.1,1254.8 403.0,1268.1 404.8,1256.1 406.6,1264.0 408.5,1256.0 410.3,1262.7 412.1,1264.2 414.0,1252.5 415.8,1256.6 417.6,1251.0 419.5,1254.5 421.3,1240.4 423.1,1255.0 425.0,1233.8 426.8,1224.4 428.6,1240.8 430.5,1214.2 432.3,1208.4 434.1,1225.3 436.0,1241.3 437.8,1241.6 439.6,1225.1 441.5,1203.2 443.3,1212.2 445.1,1207.6 447.0,1214.8 448.8,1217.0 450.6,1202.9 452.5,1214.8 454.3,1202.3 456.1,1191.5 458.0,1192.8 459.8,1184.0 461.6,1190.4 463.5,1175.8 465.3,1174.3 467.1,1192.8 469.0,1183.2 470.8,1176.6 472.6,1158.4 474.5,1158.6 476.3,1154.9 478.1,1151.8 480.0,1142.1 481.8,1133.7 483.6,1145.1 485.5,1151.3 487.3,1120.2 489.1,1124.7 490.9,1116.7 492.8,1114.6 494.6,1121.4 496.4,1122.2 498.3,1089.3 500.1,1083.8 501.9,1081.8 503.8,1086.4 505.6,1081.5 507.4,1085.7 509.3,1075.6 511.1,1076.9 512.9,1074.1 514.8,1059.9 516.6,1036.0 518.4,1075.5 520.3,1038.6 522.1,1032.5 523.9,1052.0 525.8,1028.4 527.6,1027.1 529.4,1030.1 531.3,1025.4 533.1,1030.9 534.9,979.8 536.8,958.2 538.6,955.0 540.4,969.3 542.3,952.4 544.1,943.0 545.9,952.2 547.8,936.9 549.6,917.9 551.4,923.4 553.3,934.7 555.1,919.2 556.9,887.7 558.8,886.2 560.6,874.0 562.4,835.3 564.3,839.5 566.1,836.7 567.9,812.1 569.8,764.0 571.6,805.2 573.4,749.9 575.3,747.5 577.1,765.8 578.9,761.2 580.8,725.1 582.6,737.2 584.4,742.8 586.3,696.5 588.1,716.9 589.9,707.7 591.8,706.6 593.6,706.9 595.4,694.8 597.3,698.7 599.1,679.5 600.9,666.1 602.8,661.9 604.6,656.3 606.4,647.1 608.3,655.6 610.1,674.6 611.9,642.5 613.7,681.7 615.6,658.8 617.4,634.8 619.2,664.2 621.1,604.6 622.9,644.8 624.7,650.1 626.6,634.1 628.4,631.6 630.2,616.5 632.1,617.2 633.9,594.6 635.7,614.2 637.6,605.7 639.4,623.4 641.2,592.9 643.1,611.4 644.9,627.9 646.7,564.3 648.6,602.1 650.4,598.0 652.2,589.4 654.1,556.5 655.9,590.9 657.7,564.2 659.6,536.9 661.4,500.8 663.2,535.1 665.1,525.8 666.9,541.1 668.7,486.2 670.6,523.8 672.4,518.4 674.2,508.9 676.1,523.4 677.9,501.9 679.7,523.7 681.6,469.7 683.4,499.6 685.2,498.1 687.1,469.8 688.9,511.9 690.7,451.9 692.6,438.4 694.4,475.9 696.2,441.3 698.1,451.6 699.9,424.5 701.7,431.6 703.6,415.5 705.4,369.5 707.2,381.4 709.1,367.8 710.9,346.1 712.7,337.4 714.6,348.9 716.4,396.3 718.2,346.3 720.1,369.4 721.9,314.1 723.7,361.1 725.6,316.2 727.4,334.5 729.2,344.5 731.1,336.5 732.9,390.0 734.7,333.2 736.5,348.0 738.4,381.2 740.2,344.8 742.0,345.2 743.9,338.8 745.7,323.9 747.5,314.5 749.4,306.9 751.2,315.1 753.0,310.3 754.9,248.3 756.7,312.8 758.5,281.9 760.4,305.4 762.2,322.5 764.0,284.9 765.9,271.1 767.7,310.4 769.5,301.1 771.4,328.1 773.2,367.6 775.0,345.8 776.9,361.2 778.7,355.8 780.5,455.5 782.4,405.2 784.2,425.1 786.0,470.4 787.9,439.4 789.7,469.4 791.5,468.4 793.4,460.2 795.2,455.5 797.0,482.7 798.9,477.7 800.7,487.0 802.5,514.4 804.4,475.2 806.2,498.0 808.0,517.3 809.9,508.7 811.7,528.1 813.5,558.2 815.4,539.0 817.2,565.3 819.0,563.4 820.9,565.5 822.7,575.2 824.5,569.0 826.4,611.9 828.2,636.7 830.0,675.3 831.9,690.1 833.7,681.9 835.5,697.8 837.4,729.2 839.2,732.9 841.0,736.3 842.9,708.4 844.7,753.9 846.5,736.7 848.4,773.3 850.2,754.3 852.0,731.8 853.9,778.0 855.7,741.7 857.5,795.2 859.3,769.6 861.2,795.0 863.0,784.5 864.8,794.7 866.7,784.1 868.5,798.7 870.3,806.7 872.2,824.6 874.0,816.1 875.8,842.4 877.7,847.1 879.5,854.3 881.3,844.1 883.2,826.8 885.0,870.0 886.8,848.1 888.7,899.6 890.5,900.8 892.3,891.0 894.2,894.9 896.0,896.6 897.8,888.3 899.7,917.3 901.5,902.0 903.3,917.2 905.2,964.2 907.0,941.1 908.8,937.4 910.7,931.2 912.5,927.9 914.3,941.8 916.2,921.9 918.0,956.6 919.8,945.7 921.7,934.6 923.5,965.1 925.3,933.6 927.2,939.4 929.0,956.5 930.8,956.1 932.7,959.9 934.5,961.7 936.3,948.7 938.2,962.8 940.0,992.4 941.8,997.8 943.7,971.1 945.5,1016.1 947.3,1002.8 949.2,990.7 951.0,983.9 952.8,967.2 954.7,985.0 956.5,942.9 958.3,989.7 960.2,984.0 962.0,985.0 963.8,1003.0 965.7,992.2 967.5,1000.0 969.3,1007.6 971.2,1021.6 973.0,1021.1 974.8,1006.9 976.6,1019.4 978.5,1015.0 980.3,1016.5 982.1,1019.8 984.0,1025.0 985.8,1019.6 987.6,1018.5 989.5,1013.6 991.3,979.5 993.1,1042.5 995.0,1046.0 996.8,1031.3 998.6,1060.9 1000.5,1050.1 1002.3,1032.1 1004.1,1050.6 1006.0,1055.3 1007.8,1031.9 1009.6,1080.9 1011.5,1048.4 1013.3,1053.2 1015.1,1069.1 1017.0,1036.4 1018.8,1029.5 1020.6,1016.0 1022.5,1042.4 1024.3,1047.6 1026.1,1056.5 1028.0,1055.3 1029.8,1077.3 1031.6,1064.9 1033.5,1051.9 1035.3,1061.4 1037.1,1049.9 1039.0,1079.7 1040.8,1067.5 1042.6,1073.2 1044.5,1048.2 1046.3,1065.2 1048.1,1066.6 1050.0,1079.1 1051.8,1071.7 1053.6,1079.4 1055.5,1075.6 1057.3,1043.8 1059.1,1007.7 1061.0,1075.8 1062.8,1084.0 1064.6,1057.7 1066.5,1085.8 1068.3,1084.9 1070.1,1070.2 1072.0,1054.7 1073.8,1072.2 1075.6,1082.3 1077.5,1106.9 1079.3,1120.5 1081.1,1078.3 1083.0,1077.9 1084.8,1064.8 1086.6,1074.1 1088.5,1083.2 1090.3,1064.3 1092.1,1058.5 1094.0,1087.0 1095.8,1067.7 1097.6,1064.5 1099.4,1088.3 1101.3,1072.3 1103.1,1079.4 1104.9,1064.6 1106.8,1064.9 1108.6,1103.4 1110.4,1079.7 1112.3,1059.6 1114.1,1069.4 1115.9,1087.7 1117.8,1081.0 1119.6,1088.4 1121.4,1071.9 1123.3,1092.4 1125.1,1062.7 1126.9,1068.2 1128.8,1059.0 1130.6,1067.1 1132.4,1068.3 1134.3,1069.9 1136.1,1074.2 1137.9,1104.4 1139.8,1074.0 1141.6,1090.1 1143.4,1109.5 1145.3,1061.4 1147.1,1080.6 1148.9,1059.6 1150.8,1076.3 1152.6,1074.2 1154.4,1076.6 1156.3,1060.5 1158.1,1091.3 1159.9,1059.6 1161.8,1089.8 1163.6,1129.1 1165.4,1072.4 1167.3,1087.8 1169.1,1053.6 1170.9,1107.7 1172.8,1105.5 1174.6,1094.6 1176.4,1100.7 1178.3,1076.9 1180.1,1098.1 1181.9,1075.3 1183.8,1096.9 1185.6,1082.0 1187.4,1081.9 1189.3,1089.6 1191.1,1081.7 1192.9,1085.2 1194.8,1063.3 1196.6,1059.8 1198.4,1092.6 1200.3,1083.5 1202.1,1076.9 1203.9,1085.7 1205.8,1070.8 1207.6,1064.5 1209.4,1120.8 1211.3,1104.4 1213.1,1082.2 1214.9,1071.2 1216.8,1105.8 1218.6,1099.8 1220.4,1095.4 1222.2,1077.6 1224.1,1109.2 1225.9,1096.3 1227.7,1082.4 1229.6,1088.5 1231.4,1103.4 1233.2,1105.7 1235.1,1123.9 1236.9,1123.1 1238.7,1113.3 1240.6,1092.9 1242.4,1093.1 1244.2,1087.6 1246.1,1092.6 1247.9,1095.1 1249.7,1103.0 1251.6,1080.8 1253.4,1093.2 1255.2,1113.0 1257.1,1130.6 1258.9,1104.3 1260.7,1108.5 1262.6,1081.1 1264.4,1112.7 1266.2,1105.8 1268.1,1123.9 1269.9,1103.1 1271.7,1108.5 1273.6,1121.6 1275.4,1109.6 1277.2,1127.5 1279.1,1106.0 1280.9,1118.1 1282.7,1108.5 1284.6,1123.0 1286.4,1121.1 1288.2,1113.6 1290.1,1101.7 1291.9,1109.9 1293.7,1139.3 1295.6,1104.4 1297.4,1114.1 1299.2,1106.0 1301.1,1100.6 1302.9,1104.9 1304.7,1123.4 1306.6,1119.8 1308.4,1110.7 1310.2,1105.9 1312.1,1127.7 1313.9,1127.4 1315.7,1132.6 1317.6,1117.5 1319.4,1131.4 1321.2,1097.1 1323.1,1114.9 1324.9,1111.4 1326.7,1118.5 1328.6,1133.0 1330.4,1156.2 1332.2,1111.3 1334.1,1125.6 1335.9,1151.9 1337.7,1098.8 1339.6,1123.3 1341.4,1113.8 1343.2,1134.7 1345.0,1151.9 1346.9,1071.2 1348.7,1123.0 1350.5,1156.7 1352.4,1139.9 1354.2,1122.1 1356.0,1124.1 1357.9,1136.3 1359.7,1166.7 1361.5,1140.6 1363.4,1122.7 1365.2,1126.9 1367.0,1141.1 1368.9,1132.4 1370.7,1130.8 1372.5,1142.7 1374.4,1147.6 1376.2,1148.2 1378.0,1150.4 1379.9,1142.2 1381.7,1142.1 1383.5,1135.2 1385.4,1135.5 1387.2,1143.9 1389.0,1166.8 1390.9,1143.8 1392.7,1153.8 1394.5,1124.8 1396.4,1148.2 1398.2,1120.3 1400.0,1138.9 1401.9,1127.8 1403.7,1144.8 1405.5,1141.7 1407.4,1152.6 1409.2,1153.5 1411.0,1154.0 1412.9,1141.0 1414.7,1162.6 1416.5,1139.5 1418.4,1154.4 1420.2,1145.0 1422.0,1163.1 1423.9,1151.7 1425.7,1171.4 1427.5,1160.0 1429.4,1155.8 1431.2,1165.8 1433.0,1158.5 1434.9,1156.3 1436.7,1157.8 1438.5,1183.0 1440.4,1165.2 1442.2,1165.0 1444.0,1172.6 1445.9,1174.3 1447.7,1143.7 1449.5,1156.3 1451.4,1155.5 1453.2,1154.2 1455.0,1178.0 1456.9,1171.6 1458.7,1188.8 1460.5,1169.0 1462.4,1192.7 1464.2,1181.4 1466.0,1167.3 1467.8,1170.9 1469.7,1188.2 1471.5,1188.5 1473.3,1166.6 1475.2,1147.7 1477.0,1188.7 1478.8,1184.0 1480.7,1186.4 1482.5,1201.0 1484.3,1197.5 1486.2,1214.8 1488.0,1191.3 1489.8,1193.1 1491.7,1183.1 1493.5,1182.9 1495.3,1198.1 1497.2,1176.8 1499.0,1201.0 1500.8,1184.0 1502.7,1199.3 1504.5,1200.7 1506.3,1207.5 1508.2,1195.5 1510.0,1171.7 1511.8,1193.4 1513.7,1190.2 1515.5,1198.7 1517.3,1190.2 1519.2,1189.2 1521.0,1178.1 1522.8,1182.5 1524.7,1197.7 1526.5,1194.2 1528.3,1183.9 1530.2,1194.4 1532.0,1209.2 1533.8,1189.3 1535.7,1196.1 1537.5,1211.2 1539.3,1211.4 1541.2,1208.1 1543.0,1196.7 1544.8,1202.7 1546.7,1197.2 1548.5,1183.3 1550.3,1191.7 1552.2,1209.0 1554.0,1217.8 1555.8,1206.1 1557.7,1219.9 1559.5,1221.3 1561.3,1215.3 1563.2,1211.9 1565.0,1217.9 1566.8,1213.6 1568.7,1243.8 1570.5,1222.0 1572.3,1219.3 1574.2,1213.8 1576.0,1218.4 1577.8,1224.7 1579.7,1198.4 1581.5,1213.3 1583.3,1216.9 1585.2,1219.9 1587.0,1218.4 1588.8,1198.8 1590.6,1233.0 1592.5,1220.9 1594.3,1238.8 1596.1,1217.9 1598.0,1227.8 1599.8,1217.6 1601.6,1223.7 1603.5,1233.2 1605.3,1232.3 1607.1,1229.6 1609.0,1213.2 1610.8,1212.7 1612.6,1228.1 1614.5,1225.4 1616.3,1234.8 1618.1,1214.0 1620.0,1225.7 1621.8,1234.6 1623.6,1241.5 1625.5,1224.6 1627.3,1212.4 1629.1,1230.2 1631.0,1240.4 1632.8,1241.1 1634.6,1239.4 1636.5,1256.8 1638.3,1228.3 1640.1,1243.9 1642.0,1257.3 1643.8,1269.1 1645.6,1239.4 1647.5,1241.5 1649.3,1203.9 1651.1,1235.6 1653.0,1249.7 1654.8,1262.7 1656.6,1245.4 1658.5,1253.1 1660.3,1262.3 1662.1,1262.6 1664.0,1250.3 1665.8,1249.5 1667.6,1259.2 1669.5,1263.7 1671.3,1268.2 1673.1,1247.2 1675.0,1237.0 1676.8,1248.7 1678.6,1272.4 1680.5,1249.2 1682.3,1264.6 1684.1,1247.2 1686.0,1197.8 1687.8,1246.4 1689.6,1273.6 1691.5,1240.0 1693.3,1246.6 1695.1,1232.4 1697.0,1245.5 1698.8,1244.3 1700.6,1268.0 1702.5,1238.9 1704.3,1264.2 1706.1,1271.9 1708.0,1249.0 1709.8,1247.1 1711.6,1240.4 1713.4,1242.8 1715.3,1237.8 1717.1,1249.2 1718.9,1243.7 1720.8,1247.8 1722.6,1246.7 1724.4,1269.8 1726.3,1252.4 1728.1,1255.3 1729.9,1247.8 1731.8,1260.3 1733.6,1245.0 1735.4,1247.3 1737.3,1265.0 1739.1,1255.0 1740.9,1250.9 1742.8,1266.5 1744.6,1279.2 1746.4,1259.8 1748.3,1255.4 1750.1,1257.4 1751.9,1247.5 1753.8,1257.0 1755.6,1242.2 1757.4,1262.0 1759.3,1241.8 1761.1,1259.5 1762.9,1252.3 1764.8,1273.8 1766.6,1263.7 1768.4,1245.9 1770.3,1256.4 1772.1,1257.4 1773.9,1269.1 1775.8,1251.6 1777.6,1268.4 1779.4,1246.6 1781.3,1254.6 1783.1,1265.5 1784.9,1268.0 1786.8,1265.5 1788.6,1257.6 1790.4,1259.0 1792.3,1276.2 1794.1,1258.8 1795.9,1271.8 1797.8,1245.7 1799.6,1279.2 1801.4,1253.6 1803.3,1272.8 1805.1,1258.8 1806.9,1251.9 1808.8,1258.9 1810.6,1274.3 1812.4,1278.3 1814.3,1251.9 1816.1,1273.1 1817.9,1259.3 1819.8,1256.0 1821.6,1281.9 1823.4,1249.7 1825.3,1268.8 1827.1,1269.8 1828.9,1277.1 1830.8,1266.6 1832.6,1264.7 1834.4,1259.9 1836.2,1260.4 1838.1,1260.7 1839.9,1270.9 1841.7,1270.5 1843.6,1268.1 1845.4,1266.9 1847.2,1256.4 1849.1,1258.7 1850.9,1267.7 1852.7,1274.1 1854.6,1282.8 1856.4,1267.9 1858.2,1266.4 1860.1,1283.9 1861.9,1271.3 1863.7,1266.6 1865.6,1267.5 1867.4,1282.3 1869.2,1275.9 1871.1,1283.1 1872.9,1262.8 1874.7,1268.0"/>
<rect x="304.0" y="66.0" width="1571.0" height="1266.0" fill="none" stroke="#000" stroke-width="6.4"/>
<path d="M304.0,1332.0v-25M304.0,66.0v25M434.9,1332.0v-12.5M434.9,66.0v12.5M565.8,1332.0v-25M565.8,66.0v25M696.8,1332.0v-12.5M696.8,66.0v12.5M827.7,1332.0v-25M827.7,66.0v25M958.6,1332.0v-12.5M958.6,66.0v12.5M1089.5,1332.0v-25M1089.5,66.0v25M1220.4,1332.0v-12.5M1220.4,66.0v12.5M1351.3,1332.0v-25M1351.3,66.0v25M1482.2,1332.0v-12.5M1482.2,66.0v12.5M1613.2,1332.0v-25M1613.2,66.0v25M1744.1,1332.0v-12.5M1744.1,66.0v12.5M1875.0,1332.0v-25M1875.0,66.0v25M304.0,1332.0h25M1875.0,1332.0h-25M304.0,1205.4h12.5M1875.0,1205.4h-12.5M304.0,1078.8h25M1875.0,1078.8h-25M304.0,952.2h12.5M1875.0,952.2h-12.5M304.0,825.6h25M1875.0,825.6h-25M304.0,699.0h12.5M1875.0,699.0h-12.5M304.0,572.4h25M1875.0,572.4h-25M304.0,445.8h12.5M1875.0,445.8h-12.5M304.0,319.2h25M1875.0,319.2h-25M304.0,192.6h12.5M1875.0,192.6h-12.5M304.0,66.0h25M1875.0,66.0h-25" stroke="#000" stroke-width="5" fill="none"/>
<text transform="translate(304.0,1411) scale(1,1.042)" text-anchor="middle" style="font-size:67px">400</text>
<text transform="translate(565.8,1411) scale(1,1.042)" text-anchor="middle" style="font-size:67px">450</text>
<text transform="translate(827.7,1411) scale(1,1.042)" text-anchor="middle" style="font-size:67px">500</text>
<text transform="translate(1089.5,1411) scale(1,1.042)" text-anchor="middle" style="font-size:67px">550</text>
<text transform="translate(1351.3,1411) scale(1,1.042)" text-anchor="middle" style="font-size:67px">600</text>
<text transform="translate(1613.2,1411) scale(1,1.042)" text-anchor="middle" style="font-size:67px">650</text>
<text transform="translate(1875.0,1411) scale(1,1.042)" text-anchor="middle" style="font-size:67px">700</text>
<text transform="translate(279,1353.5) scale(1,1.042)" text-anchor="end" style="font-size:67px">0</text>
<text transform="translate(279,1100.3) scale(1,1.042)" text-anchor="end" style="font-size:67px">50</text>
<text transform="translate(279,847.1) scale(1,1.042)" text-anchor="end" style="font-size:67px">100</text>
<text transform="translate(279,593.9) scale(1,1.042)" text-anchor="end" style="font-size:67px">150</text>
<text transform="translate(279,340.7) scale(1,1.042)" text-anchor="end" style="font-size:67px">200</text>
<text transform="translate(279,87.5) scale(1,1.042)" text-anchor="end" style="font-size:67px">250</text>
<rect x="1260" y="127.8" width="564.2" height="368.2" fill="#ebebeb" stroke="#a0a0a0" stroke-width="4"/>
<line x1="1267" y1="181.0" x2="1418" y2="181.0" stroke="#c00000" stroke-width="4.6"/>
<text class="lg" transform="translate(1433,204.5) scale(1,1.05)">509.28 <tspan>A/cm</tspan><tspan dx="-1.5" dy="-26" style="font-size:46px">2</tspan></text>
<line x1="1267" y1="271.0" x2="1418" y2="271.0" stroke="#7623bb" stroke-width="4.6"/>
<text class="lg" transform="translate(1433,294.5) scale(1,1.05)">636.60 <tspan>A/cm</tspan><tspan dx="-1.5" dy="-26" style="font-size:46px">2</tspan></text>
<line x1="1267" y1="361.0" x2="1418" y2="361.0" stroke="#4a2828" stroke-width="4.6"/>
<text class="lg" transform="translate(1433,384.5) scale(1,1.05)">763.92 <tspan>A/cm</tspan><tspan dx="-1.5" dy="-26" style="font-size:46px">2</tspan></text>
<line x1="1267" y1="451.0" x2="1418" y2="451.0" stroke="#2b5e98" stroke-width="4.6"/>
<text class="lg" transform="translate(1433,474.5) scale(1,1.05)">891.24 <tspan>A/cm</tspan><tspan dx="-1.5" dy="-26" style="font-size:46px">2</tspan></text>
<text transform="translate(798.5,193.5) scale(1,1.05)" style="font-weight:bold;font-size:77.3px;fill:#985e12;stroke:none">488 nm</text>
<text x="1092" y="1511" text-anchor="middle" style="font-size:66.6px">Wavelength (nm)</text>
<text transform="translate(104,659) rotate(-90)" text-anchor="middle">Intensity (a.u.)</text>
</svg>
</body></html>
